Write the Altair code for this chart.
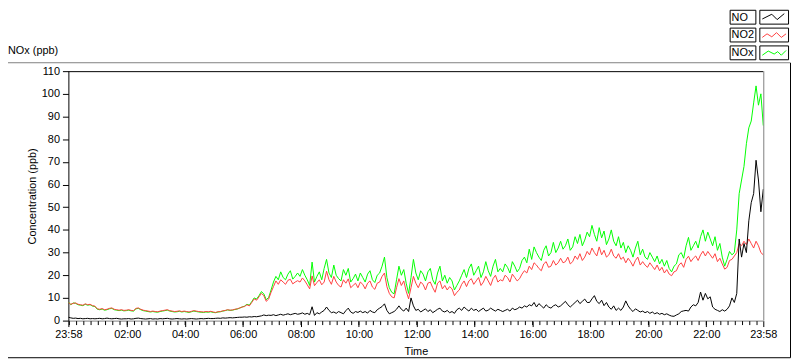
import json
import altair as alt
import pandas as pd

# ---------------- data (5-minute samples from 23:58 to 23:58 next day) ----------------
STEP_MIN = 5

no2 = [
    8.0, 7.2, 7.6, 7.8, 7.2, 7.0, 6.8, 7.4, 7.0, 7.2, 6.6, 6.4,
    5.2, 5.0, 5.3, 4.8, 5.0, 5.4, 5.6, 5.0, 4.8, 4.6, 4.8, 4.5,
    4.6, 4.8, 4.5, 4.4, 5.4, 5.6, 5.0, 4.6, 4.4, 4.2, 4.0, 4.2,
    4.0, 3.9, 4.2, 4.4, 4.6, 4.8, 4.4, 4.2, 4.0, 4.1, 4.3, 4.0,
    4.2, 4.0, 3.8, 4.1, 4.4, 4.2, 4.0, 3.9, 3.8, 4.0, 3.9, 4.1,
    3.8, 3.6, 3.9, 4.0, 4.3, 4.5, 4.8, 4.6, 4.7, 5.0, 5.2, 5.6,
    6.0, 6.2, 7.0, 6.5, 8.0, 9.6, 9.0, 10.5, 12.0, 11.0, 8.5, 9.5,
    12.5, 15.0, 17.5, 16.0, 18.0, 17.0, 16.0, 17.8, 18.2, 16.2, 17.0, 17.6,
    17.0, 18.8, 17.5, 15.8, 14.0, 19.7, 15.4, 16.8, 18.0, 15.8, 17.0, 21.8,
    18.0, 16.0, 19.5, 17.0, 15.5, 14.8, 18.0, 16.5, 18.4, 14.5, 15.5, 16.5,
    14.5, 17.0, 16.0, 14.0, 16.5, 17.5, 14.8, 13.8, 16.5, 17.0, 19.5, 21.0,
    15.0, 12.0, 10.5, 10.0, 14.5, 18.5, 15.5, 17.5, 13.0, 9.6, 14.5, 19.5,
    16.5, 14.5, 17.0, 16.0, 13.5, 16.5, 17.0, 14.5, 12.5, 16.5, 17.5, 14.0,
    15.5, 13.5, 15.0, 14.0, 11.0, 12.5, 13.5, 16.0, 17.5, 15.0, 17.5, 18.5,
    16.0, 17.5, 19.0, 15.5, 17.0, 19.5, 17.5, 15.5, 18.5, 20.0, 17.0, 18.0,
    17.5, 20.0, 19.0, 17.0, 20.5, 19.0, 17.5, 18.5, 20.5, 22.0, 21.0, 24.0,
    22.5, 25.5, 24.5, 23.0, 22.0, 25.0, 26.0, 23.5, 24.0, 26.5, 24.5, 25.5,
    27.5, 25.5, 26.0, 28.0, 25.0, 26.0, 28.5, 27.0, 29.5, 26.5, 28.0, 30.5,
    29.0, 32.0, 30.0, 28.5, 32.5, 29.0, 31.0, 28.0, 29.0, 31.5, 28.5, 27.5,
    29.5, 27.0, 28.0, 25.5, 27.5, 26.0, 24.0, 26.5, 28.0, 24.5, 26.0, 24.5,
    23.5, 25.5, 24.0, 22.5, 24.5, 22.0, 23.5, 21.0, 22.5, 20.5, 19.8, 21.5,
    22.0, 24.5, 25.5, 23.5, 27.0, 28.4, 26.0, 27.5, 28.5, 26.5, 29.0, 30.6,
    28.5, 30.5, 29.0, 27.5, 29.5, 26.0, 27.5, 25.0, 22.7, 23.5, 26.5, 27.0,
    28.5, 30.0, 34.0, 33.0, 35.0, 33.5, 36.0, 34.0, 32.0, 35.0, 33.0, 30.0,
    29.0,
]

nox = [
    8.2, 7.0, 7.8, 7.6, 7.0, 6.8, 6.6, 7.2, 6.8, 7.0, 6.4, 6.2,
    5.0, 4.8, 5.1, 4.6, 4.8, 5.2, 5.4, 4.8, 4.6, 4.4, 4.6, 4.3,
    4.4, 4.6, 4.3, 4.2, 5.2, 5.4, 4.8, 4.4, 4.2, 4.0, 3.8, 4.0,
    3.8, 3.7, 4.0, 4.2, 4.4, 4.6, 4.2, 4.0, 3.8, 3.9, 4.1, 3.8,
    4.0, 3.8, 3.6, 3.9, 4.2, 4.0, 3.8, 3.7, 3.6, 3.8, 3.7, 3.9,
    3.6, 3.5, 3.8, 3.9, 4.2, 4.4, 4.7, 4.5, 4.6, 4.9, 5.1, 5.5,
    6.0, 6.4, 7.2, 6.8, 8.4, 10.0, 9.5, 11.0, 12.8, 11.8, 9.2, 10.2,
    13.5, 17.0, 19.5, 18.0, 21.5, 19.0, 18.0, 20.5, 22.0, 18.3, 19.5, 21.0,
    19.5, 22.5, 20.0, 18.0, 15.5, 25.8, 17.0, 19.5, 21.5, 18.0, 23.0, 27.0,
    21.0, 19.0, 24.5, 20.0, 18.5, 17.5, 22.5, 20.0, 23.0, 17.0, 18.5, 20.5,
    17.5, 21.0, 19.0, 17.0, 20.5, 22.0, 18.0, 16.8, 20.0, 21.0, 24.0, 28.0,
    19.0, 14.5, 12.5, 11.8, 18.0, 24.0, 20.0, 22.5, 16.5, 12.0, 19.0, 27.0,
    21.0, 18.0, 22.0, 20.5, 17.5, 21.5, 23.0, 18.0, 16.0, 21.0, 24.0, 17.5,
    20.0, 16.5, 19.0, 17.5, 13.5, 15.5, 17.5, 20.0, 22.5, 19.0, 23.0, 25.0,
    20.0, 22.0, 24.0, 19.0, 21.5, 26.0, 22.0, 19.5, 24.0, 27.0, 21.5, 23.0,
    21.5, 25.0, 23.5, 21.0, 26.0, 24.0, 21.5, 23.0, 26.5, 28.0, 25.5, 31.5,
    27.0, 32.5, 30.0, 28.0, 26.5, 31.0, 33.0, 28.5, 30.0, 34.5, 30.0, 32.0,
    35.0, 31.5, 33.0, 36.0, 31.0, 32.5, 37.0, 34.0, 38.0, 33.0, 35.5, 39.0,
    37.0, 42.0, 38.0, 35.0, 41.0, 36.5, 39.5, 33.5, 36.0, 40.0, 35.0, 33.0,
    37.0, 32.0, 34.5, 30.0, 33.0, 31.0, 28.0, 32.0, 35.0, 29.0, 31.5, 28.0,
    27.0, 30.0, 28.0, 26.0, 28.5, 25.0, 27.0, 24.0, 26.5, 23.0, 21.5, 24.0,
    25.0, 29.0, 30.0, 27.5, 33.0, 36.7, 31.0, 33.0, 35.0, 32.0, 37.0, 40.0,
    35.0, 39.0, 36.0, 33.0, 37.0, 31.0, 34.0, 28.0, 24.0, 27.0, 30.5, 29.0,
    30.0, 40.0, 56.0, 62.0, 68.0, 78.0, 85.0, 88.0, 96.0, 103.5, 95.0, 100.0,
    86.0,
]

no = [
    1.5, 1.2, 1.0, 1.1, 0.9, 1.0, 0.8, 0.9, 1.0, 0.8, 0.9, 0.8,
    0.9, 1.0, 0.8, 0.9, 1.1, 0.9, 0.8, 0.9, 1.0, 0.8, 0.7, 0.8,
    0.8, 0.9, 0.7, 0.8, 1.0, 1.1, 0.9, 0.8, 0.7, 0.8, 0.9, 0.7,
    0.8, 0.7, 0.9, 0.8, 0.9, 1.0, 0.8, 0.7, 0.8, 0.9, 0.8, 0.7,
    0.8, 0.7, 0.8, 0.9, 0.8, 0.7, 0.8, 0.9, 0.8, 0.9, 1.0, 0.9,
    0.9, 1.0, 1.1, 1.0, 1.2, 1.1, 1.2, 1.3, 1.2, 1.3, 1.4, 1.5,
    1.5, 1.6, 1.5, 1.7, 1.6, 1.8, 1.7, 1.9, 2.1, 2.5, 2.2, 2.4,
    2.3, 2.6, 2.2, 2.5, 2.8, 2.4, 2.7, 3.0, 2.6, 2.9, 3.2, 2.8,
    3.0, 3.4, 2.8, 3.2, 2.6, 6.1, 2.3, 3.5, 3.0, 3.8, 4.5, 6.0,
    4.5, 3.5, 3.8, 3.2, 4.0, 3.5, 3.0, 4.4, 5.5, 3.8, 3.2, 4.0,
    3.6, 4.2, 3.5, 4.0, 3.3, 4.5, 3.8, 3.5, 4.8, 5.5, 6.2, 7.4,
    4.5, 3.0, 3.5, 4.0, 5.0, 6.5, 5.0, 4.2, 5.5, 4.0, 10.0, 6.5,
    4.5, 5.0, 3.8, 4.5, 5.2, 4.0, 4.8, 3.5, 4.2, 5.0, 5.5, 4.2,
    3.8, 4.5, 3.5, 4.0, 3.2, 4.8, 5.5, 4.5, 6.0, 5.0, 4.2, 5.5,
    4.5, 5.0, 4.0, 4.8, 5.5, 4.2, 4.6, 5.5, 4.8, 4.2, 5.0, 4.5,
    4.0, 4.5, 5.0, 4.2, 5.5, 4.8, 5.2, 6.0, 5.5, 6.5, 6.0, 7.0,
    6.5, 8.0, 6.0, 7.5, 6.5, 5.5, 7.0, 6.0, 5.5, 6.5, 7.0, 6.0,
    6.5, 7.5, 8.5, 7.0, 6.0, 7.0, 8.0, 9.0, 7.5, 8.5, 9.5, 8.0,
    8.0, 9.6, 11.0, 8.5, 7.5, 9.0, 6.6, 8.0, 6.0, 5.0, 6.5, 4.5,
    5.5, 4.5, 6.0, 8.7, 6.5, 5.0, 4.0, 5.2, 4.5, 3.8, 4.2, 3.5,
    4.0, 3.2, 3.8, 3.0, 3.5, 2.8, 3.2, 2.6, 3.0, 2.4, 2.0, 1.9,
    2.5, 3.0, 4.0, 4.3, 4.5, 4.2, 6.0, 7.0, 6.5, 8.0, 12.6, 9.0,
    12.0, 9.6, 10.5, 6.0, 5.0, 4.5, 4.0, 4.8, 4.2, 5.0, 6.5, 10.0,
    8.0, 12.0, 36.0, 28.0, 34.0, 30.0, 44.0, 52.0, 56.0, 70.7, 62.0, 48.0,
    58.0,
]

series_names = ["NO", "NO2", "NOx"]
series_colors = ["#000000", "#ff4040", "#00ff00"]

tick_minutes = [0, 122, 242, 362, 482, 602, 722, 842, 962, 1082, 1202, 1322, 1440]
tick_labels = ["23:58", "02:00", "04:00", "06:00", "08:00", "10:00", "12:00",
               "14:00", "16:00", "18:00", "20:00", "22:00", "23:58"]
minor_minutes = [2 + 15 * k for k in range(96)]
y_ticks = [0, 10, 20, 30, 40, 50, 60, 70, 80, 90, 100, 110]

chart_title = "NOx (ppb)"
x_title = "Time"
y_title = "Concentration (ppb)"

assert len(no2) == len(nox) == len(no) == 289, (len(no2), len(nox), len(no))

# ---------------- build table ----------------
rows = []
for name, vals in zip(series_names, [no, no2, nox]):
    for i, v in enumerate(vals):
        rows.append({"t": i * STEP_MIN, "v": v, "series": name})
df = pd.DataFrame(rows)

FONT = "Liberation Sans"
W, H = 702, 252

label_expr = f"{json.dumps(tick_labels)}[indexof({json.dumps(tick_minutes)}, datum.value)]"

x_enc = alt.X(
    "t:Q",
    scale=alt.Scale(domain=[0, 1440], nice=False, zero=False),
    axis=alt.Axis(values=tick_minutes, labelExpr=label_expr, title=x_title,
                  grid=False, tickSize=6, tickColor="black", domainColor="#808080",
                  labelFlush=False, labelOverlap=False, labelPadding=2, titlePadding=6),
)
y_enc = alt.Y(
    "v:Q",
    scale=alt.Scale(domain=[0, 110], nice=False, zero=True),
    axis=alt.Axis(values=y_ticks, title=y_title, grid=False, tickSize=6,
                  tickColor="black", domainColor="black", labelPadding=3,
                  titleX=-36, titleY=H / 2, titleAlign="center", titleBaseline="middle",
                  titleAngle=270),
)

base = alt.Chart(df).encode(x=x_enc, y=y_enc)
lines = [
    base.transform_filter(alt.datum.series == name).mark_line(
        color=col, strokeWidth=1, interpolate="linear", clip=True)
    for name, col in [("NOx", "#00ff00"), ("NO2", "#ff4040"), ("NO", "#000000")]
]

one = alt.Data(values=[{}])

minor = alt.Chart(pd.DataFrame({"m": minor_minutes})).mark_rule(
    color="black", strokeWidth=1).encode(
    x=alt.X("m:Q"), y=alt.value(H + 0.5), y2=alt.value(H + 4.5))

def hrule(y, x1, x2, color):
    return alt.Chart(one).mark_rule(color=color, strokeWidth=1).encode(
        x=alt.value(x1), x2=alt.value(x2), y=alt.value(y), y2=alt.value(y))

def vrule(x, y1, y2, color):
    return alt.Chart(one).mark_rule(color=color, strokeWidth=1).encode(
        x=alt.value(x), x2=alt.value(x), y=alt.value(y1), y2=alt.value(y2))

frames = [
    hrule(0.5, 0, W, "black"),          # plot top
    vrule(W + 0.5, 0, H, "#808080"),    # plot right
    hrule(-8.5, -61, 729, "#808080"),   # outer top
    vrule(729.5, -8.5, 289.5, "black"), # outer right
    hrule(289.5, -61, 729.5, "black"),  # outer bottom
]

title_txt = alt.Chart(one).mark_text(
    align="left", baseline="alphabetic", font=FONT, fontSize=11, color="black").encode(
    x=alt.value(-61), y=alt.value(-17), text=alt.value(chart_title))

zig_paths = [
    "M-1,0.15L-0.2,-0.25L0.25,0.2L0.85,-0.3",
    "M-1,0.2L-0.6,-0.1L-0.2,0.15L0.2,-0.2L0.6,0.2L1,-0.1",
    "M-1,0.2L-0.5,-0.15L0,0.1L0.3,-0.1L0.6,0.2L1,-0.2",
]
legend_layers = []
row_tops = [-62, -44, -26]
for name, col, top, zp in zip(series_names, series_colors, row_tops, zig_paths):
    for x1, x2 in [(668.5, 694.5), (698.5, 727.5)]:
        legend_layers.append(alt.Chart(one).mark_rect(
            fill="white", stroke="black", strokeWidth=1).encode(
            x=alt.value(x1), x2=alt.value(x2), y=alt.value(top + 0.5), y2=alt.value(top + 14.5)))
    legend_layers.append(alt.Chart(one).mark_text(
        align="left", baseline="middle", font=FONT, fontSize=11, color="black").encode(
        x=alt.value(670), y=alt.value(top + 8), text=alt.value(name)))
    legend_layers.append(alt.Chart(one).mark_point(
        shape=zp, filled=False, strokeWidth=1, opacity=1, size=576).encode(
        x=alt.value(713), y=alt.value(top + 7.5), color=alt.value(col)))

chart = alt.layer(*frames, *lines, minor, title_txt, *legend_layers).properties(
    width=W, height=H,
    padding={"left": 61, "top": 62, "right": 29, "bottom": 39},
    autosize=alt.AutoSizeParams(type="none"),
    background="white",
).configure_view(stroke=None).configure_axis(
    labelFont=FONT, labelFontSize=11, labelColor="black",
    titleFont=FONT, titleFontSize=11, titleFontWeight="normal", titleColor="black",
)

chart.save("out.html", embed_options={"renderer": "svg", "actions": False})
